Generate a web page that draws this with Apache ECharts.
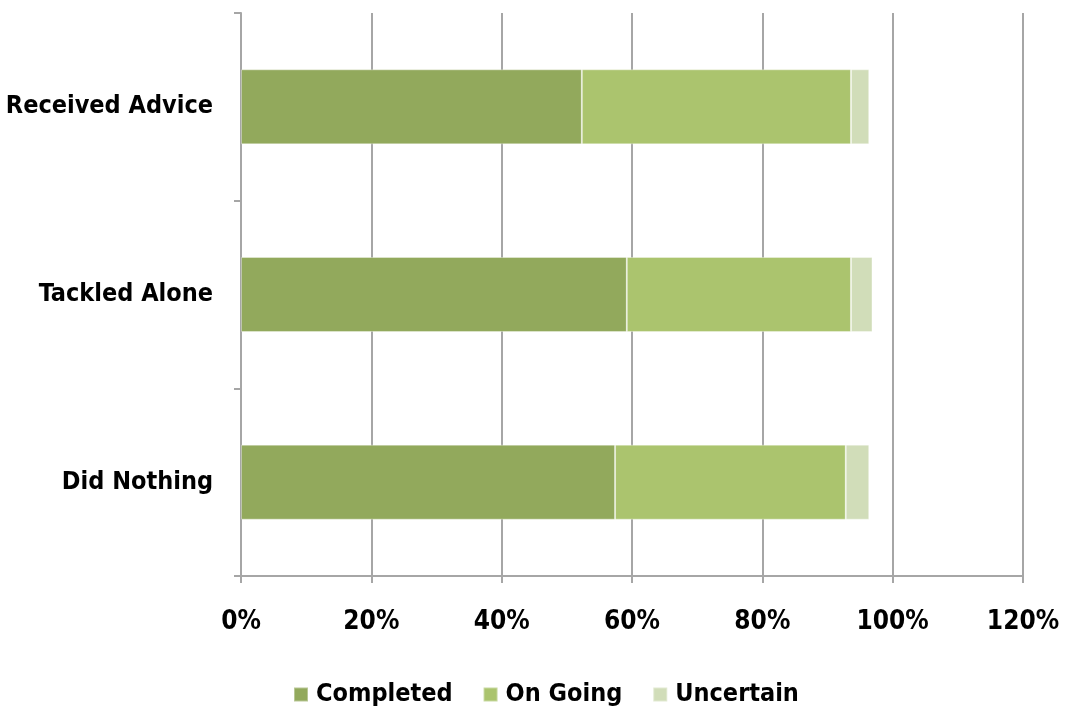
<!DOCTYPE html>
<html>
<head>
<meta charset="utf-8">
<script src="https://cdn.jsdelivr.net/npm/echarts@6/dist/echarts.min.js"></script>
<style>
  html, body { margin: 0; padding: 0; background: #ffffff; }
  #chart { width: 1066px; height: 713px; }
</style>
</head>
<body>
<div id="chart"></div>
<script>
// Outcome categories (top to bottom)
const categories = ['Received Advice', 'Tackled Alone', 'Did Nothing'];

// Share of respondents per outcome, in percent
const completed = [52.3, 59.2, 57.4];
const onGoing = [41.3, 34.4, 35.4];
const uncertain = [2.8, 3.3, 3.6];

// Value axis ticks
const xTicks = [0, 20, 40, 60, 80, 100, 120];

const seriesNames = ['Completed', 'On Going', 'Uncertain'];
const seriesColors = ['#92a95c', '#abc46e', '#d1ddb9'];
const seriesData = [completed, onGoing, uncertain];

const labelFont = {
  fontFamily: '"DejaVu Sans Condensed", "Liberation Sans Narrow", sans-serif',
  fontWeight: 'bold',
  color: '#000000'
};

const chart = echarts.init(document.getElementById('chart'), null, { renderer: 'canvas' });

chart.setOption({
  animation: false,
  backgroundColor: '#ffffff',
  grid: { left: 241, right: 43, top: 13, bottom: 137, outerBoundsMode: 'none', containLabel: false },
  legend: {
    bottom: 1,
    left: 288,
    itemWidth: 14,
    itemHeight: 14,
    itemGap: 30,
    icon: 'rect',
    textStyle: Object.assign({ fontSize: 25, padding: [0, 0, 0, 3] }, labelFont),
    data: seriesNames
  },
  xAxis: {
    type: 'value',
    min: xTicks[0],
    max: xTicks[xTicks.length - 1],
    interval: xTicks[1] - xTicks[0],
    axisLine: { show: true, lineStyle: { color: '#a6a6a6', width: 2 } },
    axisTick: { show: true, length: 7, lineStyle: { color: '#a6a6a6', width: 2 } },
    splitLine: { show: true, lineStyle: { color: '#a6a6a6', width: 2 } },
    axisLabel: Object.assign({
      fontSize: 26,
      margin: 33,
      formatter: '{value}%'
    }, labelFont)
  },
  yAxis: {
    type: 'category',
    inverse: true,
    data: categories,
    axisLine: { show: true, lineStyle: { color: '#a6a6a6', width: 2 } },
    axisTick: { show: true, length: 7, alignWithLabel: false, lineStyle: { color: '#a6a6a6', width: 2 } },
    axisLabel: Object.assign({ fontSize: 25, margin: 28 }, labelFont)
  },
  series: seriesNames.map((name, i) => ({
    name: name,
    type: 'bar',
    stack: 'total',
    barWidth: 75,
    data: seriesData[i],
    itemStyle: { color: seriesColors[i], borderColor: 'rgba(255,255,255,0.35)', borderWidth: 1 }
  }))
});
</script>
</body>
</html>
